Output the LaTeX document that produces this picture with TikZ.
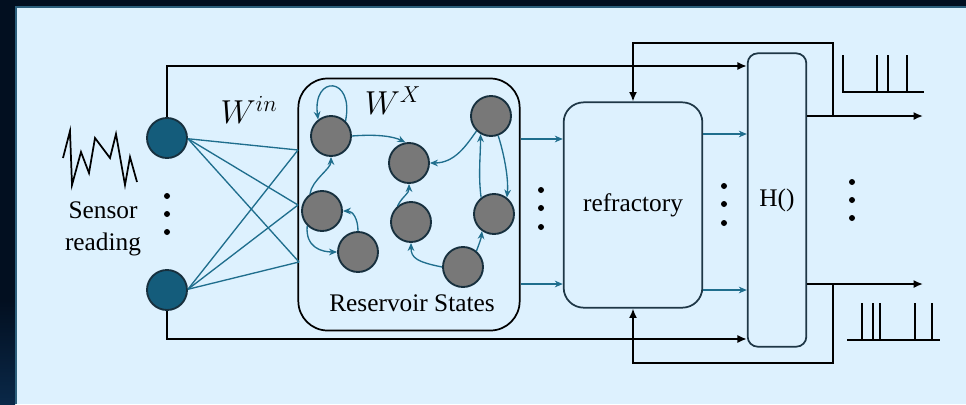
\documentclass[tikz,border=0pt]{standalone}
\usepackage{fontspec}
\setmainfont{Liberation Serif}
\usetikzlibrary{arrows.meta}
\DeclareMathSizes{24}{24}{19}{15}
\definecolor{navy}{HTML}{020F20}
\definecolor{navylow}{HTML}{0A2848}
\definecolor{panelrim}{HTML}{2C5F7C}
\definecolor{panel}{HTML}{DDF1FE}
\definecolor{tealedge}{HTML}{1F6E8D}
\definecolor{infill}{HTML}{145C7B}
\definecolor{outl}{HTML}{17303E}
\definecolor{resfill}{HTML}{787878}
\definecolor{boxline}{HTML}{1E3746}
\begin{document}
\begin{tikzpicture}[x=0.75pt,y=-0.75pt,
  inputnode/.style={circle,draw=outl,line width=1.4pt,fill=infill,minimum size=30pt,inner sep=0pt},
  resnode/.style={circle,draw=outl,line width=1.4pt,fill=resfill,minimum size=30pt,inner sep=0pt},
  link/.style={draw=tealedge,line width=1pt},
  tarrow/.style={link,-{Stealth[length=6pt,width=5pt]}},
  barrow/.style={draw=black,line width=1.3pt,-{Latex[length=7pt,width=6pt]}},
  bline/.style={draw=black,line width=1.3pt},
  dotmark/.style={circle,fill=black,inner sep=0pt,minimum size=4.5pt},
  lbl/.style={font=\fontsize{19}{24}\selectfont},
  mlbl/.style={font=\fontsize{24}{28}\selectfont},
  blockbox/.style={draw=boxline,line width=1.3pt,fill=panel},
]
% background
\useasboundingbox (0,0) rectangle (966,404);
\fill[navy] (0,0) rectangle (966,404);
\shade[top color=navy,bottom color=navylow] (0,300) rectangle (15,404);
\fill[panelrim] (15,6) rectangle (966,404);
\fill[panel] (17,8) rectangle (966,404);

% waveform
\draw[black,line width=1.3pt,line join=miter] (63,158) -- (70,131) -- (72,185) -- (81,152) -- (89,173) -- (95,138) -- (110,158) -- (116,134) -- (125,185) -- (130,157) -- (137,182);
\node[lbl,align=center] (sensor) at (103,229) {Sensor\\reading};

% input nodes
\node[inputnode] (in1) at (167,138) {};
\node[inputnode] (in2) at (167,290) {};
\node[dotmark] (d1a) at (167,196) {};
\node[dotmark] (d1b) at (167,214) {};
\node[dotmark] (d1c) at (167,232) {};
\node[mlbl] (win) at (249,110) {$W^{in}$};

% reservoir box
\node[draw=black,line width=1.3pt,rounded corners=22pt,minimum width=166pt,minimum height=189pt] (res) at (409,204.5) {};
\node[mlbl] (wx) at (393,101) {$W^{X}$};
\node[lbl] (resl) at (412,303) {Reservoir States};

\coordinate (r1) at (298,150);
\coordinate (r2) at (298,205);
\coordinate (r3) at (299,262);
\foreach \r in {r1,r2,r3}{
  \draw[link] (in1.-2) -- (\r);
  \draw[link] (in2.2) -- (\r);
}

% reservoir nodes
\node[resnode] (A) at (331,136) {};
\node[resnode] (B) at (409,163) {};
\node[resnode] (C) at (491,116) {};
\node[resnode] (D) at (322,211) {};
\node[resnode] (E) at (411,222) {};
\node[resnode] (F) at (494,214) {};
\node[resnode] (G) at (358,252) {};
\node[resnode] (H) at (463,267) {};

\draw[tarrow] (A.46) .. controls +(9,-45) and +(-6,-45) .. (A.128);
\draw[tarrow] (A.east) .. controls +(25,-2) and +(-12,-6) .. (B.100);
\draw[tarrow] (D.125) .. controls +(2,-14) and +(0,12) .. (A.south);
\draw[tarrow] (D.225) .. controls +(-2,22) and +(-15,0) .. (G.west);
\draw[tarrow] (G.north) .. controls +(0,-12) and +(10,0) .. (D.east);
\draw[tarrow] (E.130) .. controls +(5,-10) and +(0,10) .. (B.south);
\draw[tarrow] (H.west) .. controls +(-25,-5) and +(0,15) .. (E.south);
\draw[tarrow] (H.50) .. controls +(3,-8) and +(-1,8) .. (F.235);
\draw[tarrow] (F.128) .. controls +(-3,-22) and +(0,22) .. (C.240);
\draw[tarrow] (C.226) .. controls +(-10,14) and +(25,0) .. (B.east);
\draw[tarrow] (C.-70) .. controls +(5,15) and +(2,-20) .. (F.52);

% refractory and H
\node[blockbox,rounded corners=15pt,minimum width=104pt,minimum height=154pt,lbl] (refr) at (633,205) {refractory};
\node[blockbox,rounded corners=7.5pt,minimum width=44pt,minimum height=220pt,lbl] (hbox) at (777,200) {H()};

\node[dotmark] (d2a) at (541,190) {};
\node[dotmark] (d2b) at (541,208) {};
\node[dotmark] (d2c) at (541,227) {};
\node[dotmark] (d3a) at (724,186) {};
\node[dotmark] (d3b) at (724,204) {};
\node[dotmark] (d3c) at (724,223) {};
\node[dotmark] (d4a) at (852,182) {};
\node[dotmark] (d4b) at (852,200) {};
\node[dotmark] (d4c) at (852,218) {};

% reservoir -> refractory
\draw[tarrow] (res.east |- 0,139) -- (refr.west |- 0,139);
\draw[tarrow] (res.east |- 0,284) -- (refr.west |- 0,284);
% refractory -> H
\draw[tarrow] (refr.east |- 0,134) -- (hbox.west |- 0,134);
\draw[tarrow] (refr.east |- 0,290) -- (hbox.west |- 0,290);

% bypass lines
\draw[barrow] (in1.north) |- (hbox.west |- 0,66);
\draw[barrow] (in2.south) |- (hbox.west |- 0,339);

% outputs
\coordinate (o1) at (923,116);
\coordinate (o2) at (923,284);
\draw[barrow] (hbox.east |- o1) -- (o1);
\draw[barrow] (hbox.east |- o2) -- (o2);
\coordinate (b1) at (833,116);
\coordinate (b2) at (833,284);
\draw[barrow] (b1) -- (833,43) -| (refr.north);
\draw[barrow] (b2) -- (833,363) -| (refr.south);

% spike trains
\draw[black,line width=1.5pt] (843,55) -- (843,92) -- (924,92);
\foreach \x in {877,888,907} \draw[black,line width=1.5pt] (\x,55) -- (\x,92);
\draw[black,line width=1.5pt] (847,340) -- (940,340);
\foreach \x in {862,873,880,915,932} \draw[black,line width=1.5pt] (\x,303) -- (\x,340);
\end{tikzpicture}
\end{document}
